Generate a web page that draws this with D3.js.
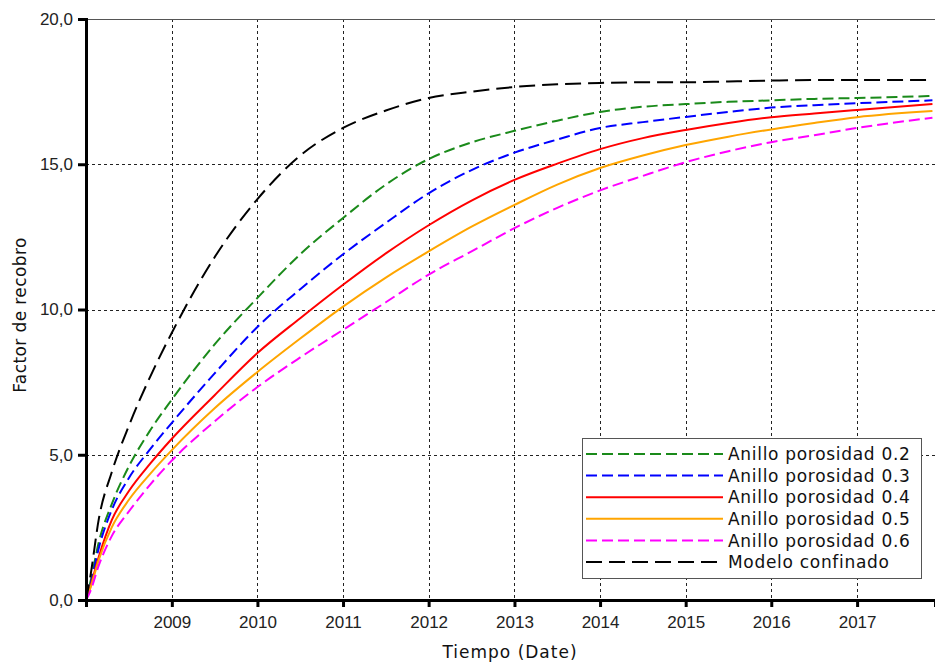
<!DOCTYPE html>
<html>
<head>
<meta charset="utf-8">
<script src="https://cdn.jsdelivr.net/npm/d3@7"></script>
<style>
  html, body { margin: 0; padding: 0; background: #fff; }
  svg { display: block; }
</style>
</head>
<body>
<svg id="chart" width="935" height="665"></svg>
<script>
// ---- data (decimal years) ----
const times = [2008.0, 2008.05, 2008.15, 2008.3, 2008.5, 2008.75, 2009, 2009.5, 2010, 2010.5, 2011, 2011.5, 2012, 2012.5, 2013, 2013.5, 2014, 2014.5, 2015, 2015.5, 2016, 2016.5, 2017, 2017.88];

const anillo02 = [0, 0.6, 2.0, 3.3, 4.6, 5.85, 6.9, 8.8, 10.4, 11.9, 13.15, 14.3, 15.18, 15.75, 16.15, 16.5, 16.8, 16.98, 17.07, 17.15, 17.2, 17.25, 17.28, 17.35];
const anillo03 = [0, 0.5, 1.8, 3.1, 4.2, 5.2, 6.1, 7.8, 9.4, 10.7, 11.9, 12.98, 14.0, 14.8, 15.4, 15.85, 16.25, 16.45, 16.63, 16.8, 16.95, 17.03, 17.1, 17.2];
const anillo04 = [0, 0.45, 1.5, 2.75, 3.75, 4.7, 5.55, 7.05, 8.5, 9.7, 10.85, 11.93, 12.9, 13.75, 14.46, 15.02, 15.52, 15.9, 16.18, 16.42, 16.62, 16.75, 16.87, 17.07];
const anillo05 = [0, 0.4, 1.4, 2.5, 3.45, 4.35, 5.16, 6.6, 7.85, 9.0, 10.1, 11.1, 12.0, 12.85, 13.6, 14.3, 14.87, 15.3, 15.66, 15.95, 16.2, 16.42, 16.62, 16.83];
const anillo06 = [0, 0.3, 1.2, 2.2, 3.05, 3.98, 4.8, 6.15, 7.33, 8.35, 9.3, 10.25, 11.2, 12.0, 12.8, 13.5, 14.1, 14.6, 15.07, 15.45, 15.76, 16.0, 16.25, 16.6];
const confinado = [0, 0.8, 2.8, 4.4, 6.0, 7.7, 9.2, 11.8, 13.8, 15.3, 16.25, 16.85, 17.28, 17.5, 17.66, 17.75, 17.8, 17.82, 17.82, 17.85, 17.88, 17.9, 17.9, 17.9];

const seriesNames = ["Anillo porosidad 0.2", "Anillo porosidad 0.3", "Anillo porosidad 0.4", "Anillo porosidad 0.5", "Anillo porosidad 0.6", "Modelo confinado"];
const seriesValues = [anillo02, anillo03, anillo04, anillo05, anillo06, confinado];
const seriesColors = ["#1a8a1a", "#0000ff", "#ff0000", "#ffa500", "#ff00ff", "#000000"];
const seriesDash = ["11,5", "11,5", null, null, "11,5", "16,7"];

const yTicks = [0, 5, 10, 15, 20];
const xTickYears = [2009, 2010, 2011, 2012, 2013, 2014, 2015, 2016, 2017];
const xDomainYears = [2008.0, 2017.91];

// ---- helpers ----
function dec(y) {
  const yr = Math.floor(y);
  const s = new Date(yr, 0, 1), e = new Date(yr + 1, 0, 1);
  return new Date(+s + (y - yr) * (e - s));
}

const svg = d3.select("#chart");
const L = 86, R = 935, T = 19, B = 600;

const x = d3.scaleTime().domain(xDomainYears.map(dec)).range([L, R]);
const y = d3.scaleLinear().domain([0, 20]).range([B, T]);

// grid
const grid = svg.append("g");
grid.selectAll("line.vg").data(xTickYears).join("line")
  .attr("x1", d => Math.round(x(dec(d))) + 0.5).attr("x2", d => Math.round(x(dec(d))) + 0.5)
  .attr("y1", T).attr("y2", B)
  .attr("stroke", "#222").attr("stroke-width", 1).attr("stroke-dasharray", "3,3");
grid.selectAll("line.hg").data(yTicks.filter(v => v > 0 && v < 20)).join("line")
  .attr("x1", L).attr("x2", R)
  .attr("y1", d => Math.round(y(d)) + 0.5).attr("y2", d => Math.round(y(d)) + 0.5)
  .attr("stroke", "#222").attr("stroke-width", 1).attr("stroke-dasharray", "3,3");

// top border
svg.append("line").attr("x1", L).attr("x2", R).attr("y1", T + 0.5).attr("y2", T + 0.5)
  .attr("stroke", "#555").attr("stroke-width", 1.2);

// lines
const line = d3.line()
  .x((d, i) => x(dec(times[i])))
  .y(d => y(d))
  .curve(d3.curveMonotoneX);

const plot = svg.append("g");
seriesValues.forEach((vals, k) => {
  plot.append("path")
    .datum(vals)
    .attr("d", line)
    .attr("fill", "none")
    .attr("stroke", seriesColors[k])
    .attr("stroke-width", 2)
    .attr("stroke-dasharray", seriesDash[k]);
});

// axes
const yAxis = d3.axisLeft(y).tickValues(yTicks).tickSize(8).tickPadding(5)
  .tickFormat(d => d3.format(".1f")(d).replace(".", ","));
const gy = svg.append("g").attr("transform", `translate(${L},0)`).call(yAxis);
gy.select(".domain").attr("stroke", "#000").attr("stroke-width", 3);
gy.selectAll(".tick line").attr("stroke", "#000").attr("stroke-width", 3);
gy.selectAll(".tick text").attr("font-family", "Liberation Sans, Arial, sans-serif")
  .attr("font-size", 17).attr("fill", "#222");

const xAxis = d3.axisBottom(x).tickValues(xTickYears.map(dec)).tickSize(7).tickPadding(9)
  .tickFormat(d3.timeFormat("%Y"));
const gx = svg.append("g").attr("transform", `translate(0,${B})`).call(xAxis);
gx.select(".domain").attr("stroke", "#000").attr("stroke-width", 3);
gx.selectAll(".tick line").attr("stroke", "#000").attr("stroke-width", 3);
gx.selectAll(".tick text").attr("font-family", "Liberation Sans, Arial, sans-serif")
  .attr("font-size", 17).attr("fill", "#222");

// axis titles
svg.append("text").attr("x", 510).attr("y", 658).attr("text-anchor", "middle")
  .attr("font-family", "DejaVu Sans, sans-serif").attr("font-size", 17).attr("fill", "#111")
  .attr("letter-spacing", "1px")
  .text("Tiempo (Date)");
svg.append("text").attr("transform", "translate(26,315) rotate(-90)").attr("text-anchor", "middle")
  .attr("font-family", "DejaVu Sans, sans-serif").attr("font-size", 17).attr("fill", "#111")
  .attr("letter-spacing", "0.4px")
  .text("Factor de recobro");

// legend
const lg = svg.append("g");
lg.append("rect").attr("x", 582.5).attr("y", 438.5).attr("width", 339).attr("height", 140)
  .attr("fill", "#fff").attr("stroke", "#555").attr("stroke-width", 1);
seriesNames.forEach((name, k) => {
  const yy = 454 + k * 21.6;
  lg.append("line").attr("x1", 586).attr("x2", 723).attr("y1", yy).attr("y2", yy)
    .attr("stroke", seriesColors[k]).attr("stroke-width", 2)
    .attr("stroke-dasharray", seriesDash[k]);
  lg.append("text").attr("x", 728).attr("y", yy).attr("dy", "0.36em")
    .attr("font-family", "DejaVu Sans, sans-serif").attr("font-size", 17).attr("fill", "#111")
    .attr("letter-spacing", "0.7px")
    .text(name);
});
</script>
</body>
</html>
